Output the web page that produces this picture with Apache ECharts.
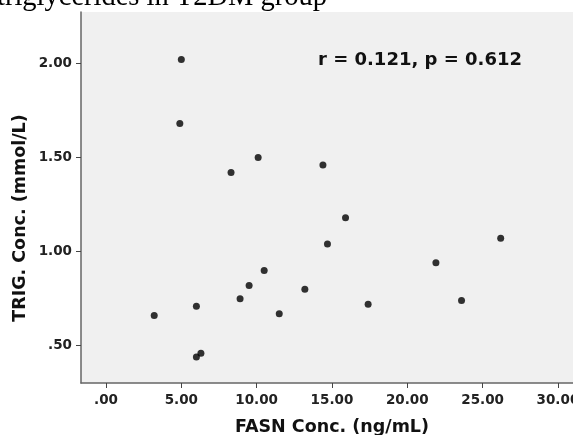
<!DOCTYPE html>
<html>
<head>
<meta charset="utf-8">
<script src="https://cdn.jsdelivr.net/npm/echarts@6/dist/echarts.min.js"></script>
<style>html,body{margin:0;padding:0;background:#fff;}#c{width:573px;height:435px;}</style>
</head>
<body>
<div id="c"></div>
<script>
// Data
const fasn = [3.2, 4.9, 5.0, 6.0, 6.0, 6.3, 8.3, 8.9, 9.5, 10.1, 10.5, 11.5, 13.2, 14.4, 14.7, 15.9, 17.4, 21.9, 23.6, 26.2];
const trig = [0.66, 1.68, 2.02, 0.71, 0.44, 0.46, 1.42, 0.75, 0.82, 1.50, 0.90, 0.67, 0.80, 1.46, 1.04, 1.18, 0.72, 0.94, 0.74, 1.07];
const xTicks = [0, 5, 10, 15, 20, 25, 30];
const yTicks = [0.5, 1.0, 1.5, 2.0];
const xTitle = 'FASN Conc. (ng/mL)';
const yTitle = 'TRIG. Conc. (mmol/L)';
const annotation = 'r = 0.121, p = 0.612';
const caption = 'triglycerides in T2DM group';

const fmt = v => { const s = Number(v).toFixed(2); return s.startsWith('0.') ? s.slice(1) : s; };
const FONT = 'DejaVu Sans';
const chart = echarts.init(document.getElementById('c'), null, {renderer: 'canvas'});
chart.setOption({
  animation: false,
  backgroundColor: '#ffffff',
  grid: {left: 81, top: 12, right: 0, bottom: 52, show: true, backgroundColor: '#f0f0f0', borderWidth: 0,
         containLabel: false, outerBoundsMode: 'none'},
  xAxis: {
    type: 'value', min: -1.66, max: 31.0,
    axisLine: {show: true, onZero: false, lineStyle: {color: '#666', width: 1.5}},
    axisTick: {show: true, length: 5, customValues: xTicks, lineStyle: {color: '#444', width: 1}},
    axisLabel: {customValues: xTicks, formatter: fmt, color: '#222', fontFamily: FONT, fontWeight: 'bold', fontSize: 13.5, margin: 10, hideOverlap: false},
    splitLine: {show: false}
  },
  yAxis: {
    type: 'value', min: 0.302, max: 2.272,
    axisLine: {show: true, onZero: false, lineStyle: {color: '#666', width: 1.5}},
    axisTick: {show: true, length: 5, customValues: yTicks, lineStyle: {color: '#444', width: 1}},
    axisLabel: {customValues: yTicks, formatter: fmt, color: '#222', fontFamily: FONT, fontWeight: 'bold', fontSize: 13.5, margin: 9},
    splitLine: {show: false}
  },
  series: [{
    type: 'scatter',
    data: fasn.map((x, i) => [x, trig[i]]),
    symbol: 'circle', symbolSize: 7,
    itemStyle: {color: '#000'}
  }],
  graphic: [
    {type: 'text', x: 318, y: 60, style: {text: annotation, font: 'bold 18px "DejaVu Sans"', fill: '#111', verticalAlign: 'middle'}},
    {type: 'text', x: 332, y: 427, style: {text: xTitle, font: 'bold 17.5px "DejaVu Sans"', fill: '#111', align: 'center', verticalAlign: 'middle'}},
    {type: 'text', x: 20, y: 218, rotation: Math.PI / 2, style: {text: yTitle, font: 'bold 17.5px "DejaVu Sans"', fill: '#111', align: 'center', verticalAlign: 'middle'}},
    {type: 'text', x: -3, y: -2, style: {text: caption, font: '28.5px "Liberation Serif"', fill: '#000', align: 'left', verticalAlign: 'middle'}}
  ]
});
</script>
</body>
</html>
